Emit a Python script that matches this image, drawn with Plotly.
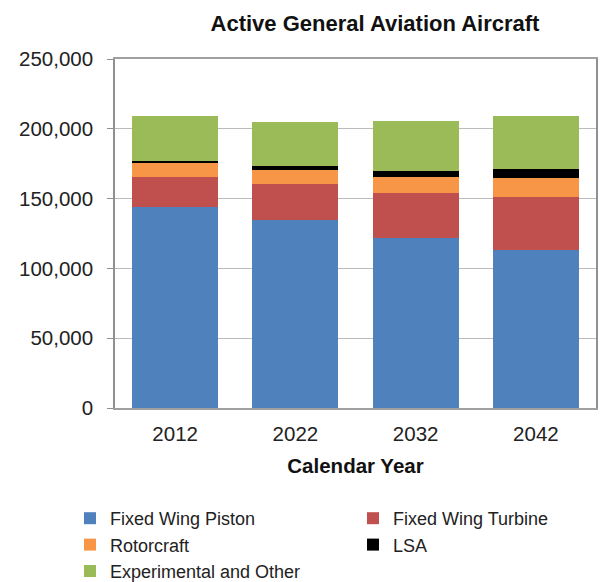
import plotly.graph_objects as go

years = ["2012", "2022", "2032", "2042"]
piston = [144200, 134700, 122000, 113200]
turbine = [21100, 25800, 31800, 38200]
rotorcraft = [10000, 10000, 11900, 13600]
lsa = [1600, 3100, 4300, 6200]
experimental = [32300, 31300, 35600, 38000]

series = [
    ("Fixed Wing Piston", piston, "#4F81BD"),
    ("Fixed Wing Turbine", turbine, "#C0504D"),
    ("Rotorcraft", rotorcraft, "#F79646"),
    ("LSA", lsa, "#000000"),
    ("Experimental and Other", experimental, "#9BBB59"),
]

fig = go.Figure()
for name, vals, color in series:
    fig.add_trace(go.Bar(name=name, x=years, y=vals, marker=dict(color=color, line=dict(width=0))))

font = "Liberation Sans, Arial, sans-serif"
L, R, T, B = 115, 15, 59, 174
plot_w = 611 - L - R
plot_h = 582 - T - B
fig.update_layout(
    barmode="stack",
    bargap=0.283,
    width=611, height=582,
    margin=dict(l=L, r=R, t=T, b=B, autoexpand=False),
    paper_bgcolor="white", plot_bgcolor="white",
    font=dict(family=font, size=20.5, color="#222222"),
    title=dict(text="<b>Active General Aviation Aircraft</b>", x=375/611, xanchor="center",
               y=1 - 23/582, yanchor="middle", font=dict(size=22, color="#111111")),
    xaxis=dict(title=dict(text="<b>Calendar Year</b>", font=dict(size=20.5, color="#111111"), standoff=14),
               showline=True, linecolor="#A0A0A0", linewidth=1.5, mirror=True,
               ticks="", ticklabelstandoff=7),
    yaxis=dict(range=[0, 250000], dtick=50000, tickformat=",", showgrid=True,
               gridcolor="#BBBBBB", gridwidth=1.2,
               showline=True, linecolor="#909090", linewidth=1.5, mirror=True,
               ticks="outside", ticklen=6, tickcolor="#909090", ticklabelstandoff=10,
               zeroline=False),
    legend=dict(orientation="h", xref="paper", yref="paper",
                x=(70 - L) / plot_w, xanchor="left",
                y=(408 - 500) / plot_h, yanchor="top",
                entrywidth=238, entrywidthmode="pixels", traceorder="normal",
                font=dict(size=18, color="#222222"), itemclick=False),
    showlegend=True,
)

fig.write_html("out.html")
